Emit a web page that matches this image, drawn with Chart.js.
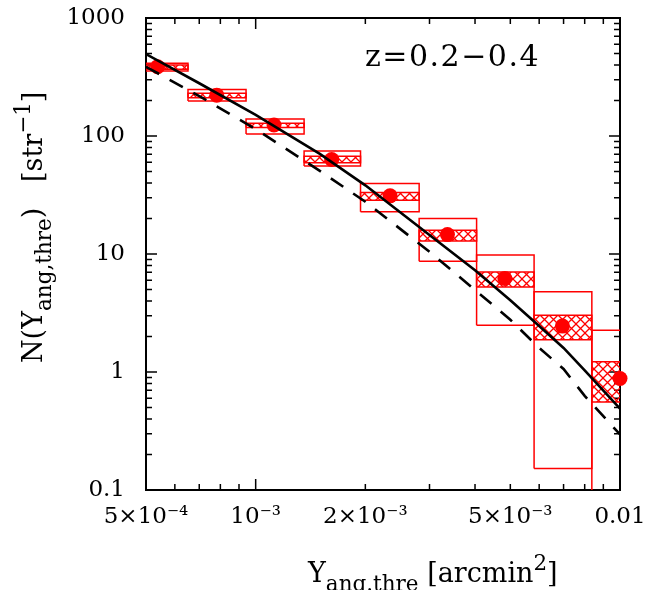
<!DOCTYPE html>
<html><head><meta charset="utf-8">
<script src="https://cdn.jsdelivr.net/npm/chart.js@4/dist/chart.umd.min.js"></script>
<style>html,body{margin:0;padding:0;background:#fff}#wrap{width:653px;height:590px;position:relative}</style>
</head><body><div id="wrap"><canvas id="c" width="653" height="590"></canvas></div>
<script>
// ---- data ----
const binLo   = [4.52e-4, 6.52e-4, 9.41e-4, 1.358e-3, 1.94e-3, 2.81e-3, 4.04e-3, 5.81e-3, 8.37e-3];
const binHi   = [6.52e-4, 9.41e-4, 1.358e-3, 1.94e-3, 2.81e-3, 4.04e-3, 5.81e-3, 8.37e-3, 1.2e-2];
const pointX  = [5.38e-4, 7.82e-4, 1.123e-3, 1.617e-3, 2.338e-3, 3.36e-3, 4.83e-3, 6.95e-3, 1.0e-2];
const pointY  = [386, 222, 124, 63.3, 31.1, 14.6, 6.2, 2.45, 0.88];
const outerLo = [355, 198, 104, 55.6, 22.8, 8.7, 2.49, 0.152, 0.05];
const outerHi = [413, 248, 139, 74.8, 39.6, 20.0, 9.8, 4.78, 2.26];
const innerLo = [367, 211, 118, 59.3, 28.6, 12.9, 5.26, 1.88, 0.557];
const innerHi = [399, 230, 128, 67.5, 33.2, 15.9, 7.05, 3.03, 1.22];
const curveX  = [5e-4, 7e-4, 1e-3, 1.5e-3, 2e-3, 3e-3, 4e-3, 5e-3, 6e-3, 7e-3, 8e-3, 1e-2];
const solidY  = [495, 280, 151, 70.6, 38.2, 14.5, 7.29, 4.06, 2.45, 1.60, 1.03, 0.49];
const dashedY = [386, 218, 114.4, 50.7, 27.7, 10.46, 4.96, 2.77, 1.60, 1.06, 0.628, 0.296];
const xTickValues = [5e-4, 1e-3, 2e-3, 5e-3, 1e-2];
const xTickLabels = ['5×10⁻⁴', '10⁻³', '2×10⁻³', '5×10⁻³', '0.01'];
const yTickValues = [0.1, 1, 10, 100, 1000];
const yTickLabels = ['0.1', '1', '10', '100', '1000'];
const annotationText = 'z=0.2−0.4';
const xTitleParts = [['Y', 'main'], ['ang.thre', 'sub'], [' [arcmin', 'main'], ['2', 'sup'], [']', 'main']];
const yTitleParts = [['N(Y', 'main'], ['ang,thre', 'sub'], [')', 'main'], ['   [str', 'main'], ['−1', 'sup'], [']', 'main']];

const RED = '#ff0000';
const FONT = '"DejaVu Serif", serif';

function makeHatch() {
  const s = 9;
  const c = document.createElement('canvas');
  c.width = s; c.height = s;
  const g = c.getContext('2d');
  g.strokeStyle = RED; g.lineWidth = 1.3;
  g.beginPath();
  g.moveTo(-1, -1); g.lineTo(s + 1, s + 1);
  g.moveTo(s + 1, -1); g.lineTo(-1, s + 1);
  g.stroke();
  return document.getElementById('c').getContext('2d').createPattern(c, 'repeat');
}
const hatch = makeHatch();

function rect(i, lo, hi) {
  return [
    {x: binLo[i], y: lo[i]}, {x: binLo[i], y: hi[i]},
    {x: binHi[i], y: hi[i]}, {x: binHi[i], y: lo[i]}, {x: binLo[i], y: lo[i]}
  ];
}

const datasets = [];
datasets.push({
  data: curveX.map((x, i) => ({x, y: solidY[i]})),
  showLine: true, borderColor: '#000', borderWidth: 2.6, pointRadius: 0, fill: false, order: 0
});
datasets.push({
  data: curveX.map((x, i) => ({x, y: dashedY[i]})),
  showLine: true, borderColor: '#000', borderWidth: 2.6, borderDash: [15, 12], pointRadius: 0, fill: false, order: 0
});
datasets.push({
  data: pointX.map((x, i) => ({x, y: pointY[i]})),
  showLine: false, pointRadius: 7.5, pointBackgroundColor: RED, pointBorderWidth: 0, clip: false, order: 1
});
for (let i = 0; i < binLo.length; i++) {
  datasets.push({
    data: rect(i, innerLo, innerHi), showLine: true, borderColor: RED, borderWidth: 1.5,
    backgroundColor: hatch, fill: 'shape', pointRadius: 0, order: 2
  });
  datasets.push({
    data: rect(i, outerLo, outerHi), showLine: true, borderColor: RED, borderWidth: 1.5,
    fill: false, pointRadius: 0, order: 3
  });
}

function drawRich(ctx, parts, x, y) {
  let cx = x;
  for (const [t, kind] of parts) {
    const size = kind === 'main' ? 27 : 21.5;
    const dy = kind === 'sub' ? 9 : (kind === 'sup' ? -12 : 0);
    ctx.font = size + 'px ' + FONT;
    ctx.fillText(t, cx, y + dy);
    cx += ctx.measureText(t).width;
  }
}

const framePlugin = {
  id: 'frame',
  beforeDatasetsDraw(chart) {
    const {ctx, chartArea: a, scales} = chart;
    ctx.save();
    ctx.strokeStyle = '#000';
    ctx.lineWidth = 2;
    ctx.strokeRect(a.left, a.top, a.right - a.left, a.bottom - a.top);
    ctx.lineWidth = 1.5;
    ctx.beginPath();
    for (let e = -4; e <= -2; e++) {
      for (let m = 1; m <= 9; m++) {
        const v = m * Math.pow(10, e);
        if (v < 5e-4 * 0.999 || v > 1e-2 * 1.001) continue;
        const px = scales.x.getPixelForValue(v);
        const L = m === 1 ? 11 : 6;
        ctx.moveTo(px, a.bottom); ctx.lineTo(px, a.bottom - L);
        ctx.moveTo(px, a.top); ctx.lineTo(px, a.top + L);
      }
    }
    for (let e = -1; e <= 3; e++) {
      for (let m = 1; m <= 9; m++) {
        const v = m * Math.pow(10, e);
        if (v < 0.1 * 0.999 || v > 1000 * 1.001) continue;
        const py = scales.y.getPixelForValue(v);
        const L = m === 1 ? 11 : 6;
        ctx.moveTo(a.left, py); ctx.lineTo(a.left + L, py);
        ctx.moveTo(a.right, py); ctx.lineTo(a.right - L, py);
      }
    }
    ctx.stroke();
    ctx.restore();
  },
  afterDraw(chart) {
    const {ctx} = chart;
    ctx.save();
    ctx.fillStyle = '#000';
    ctx.textBaseline = 'alphabetic';
    ctx.textAlign = 'left';
    ctx.font = '30px ' + FONT;
    ctx.letterSpacing = '1.5px';
    ctx.fillText(annotationText, 365, 66);
    ctx.letterSpacing = '0px';
    drawRich(ctx, xTitleParts, 308, 582);
    ctx.translate(42, 363);
    ctx.rotate(-Math.PI / 2);
    drawRich(ctx, yTitleParts, 0, 0);
    ctx.restore();
  }
};

new Chart(document.getElementById('c'), {
  type: 'scatter',
  data: {datasets},
  options: {
    responsive: false,
    animation: false,
    devicePixelRatio: 1,
    layout: {padding: {top: 18, right: 33, left: 0, bottom: 0}},
    plugins: {legend: {display: false}, tooltip: {enabled: false}, title: {display: false}},
    elements: {line: {tension: 0}},
    scales: {
      x: {
        type: 'logarithmic', min: 5e-4, max: 1e-2,
        grid: {display: false, drawTicks: false},
        border: {display: false},
        afterBuildTicks: s => { s.ticks = xTickValues.map(v => ({value: v})); },
        afterFit: s => { s.height = 100; s.paddingLeft = 0; s.paddingRight = 0; },
        ticks: {
          autoSkip: false, maxRotation: 0, padding: 13, color: '#000',
          font: {family: FONT, size: 23},
          callback: (v) => xTickLabels[xTickValues.indexOf(v)]
        }
      },
      y: {
        type: 'logarithmic', min: 0.1, max: 1000,
        grid: {display: false, drawTicks: false},
        border: {display: false},
        afterBuildTicks: s => { s.ticks = yTickValues.map(v => ({value: v})); },
        afterFit: s => { s.width = 146; s.paddingTop = 0; s.paddingBottom = 0; },
        ticks: {
          autoSkip: false, padding: 21, color: '#000',
          font: {family: FONT, size: 23},
          callback: (v) => yTickLabels[yTickValues.indexOf(v)]
        }
      }
    }
  },
  plugins: [framePlugin]
});
</script></body></html>
